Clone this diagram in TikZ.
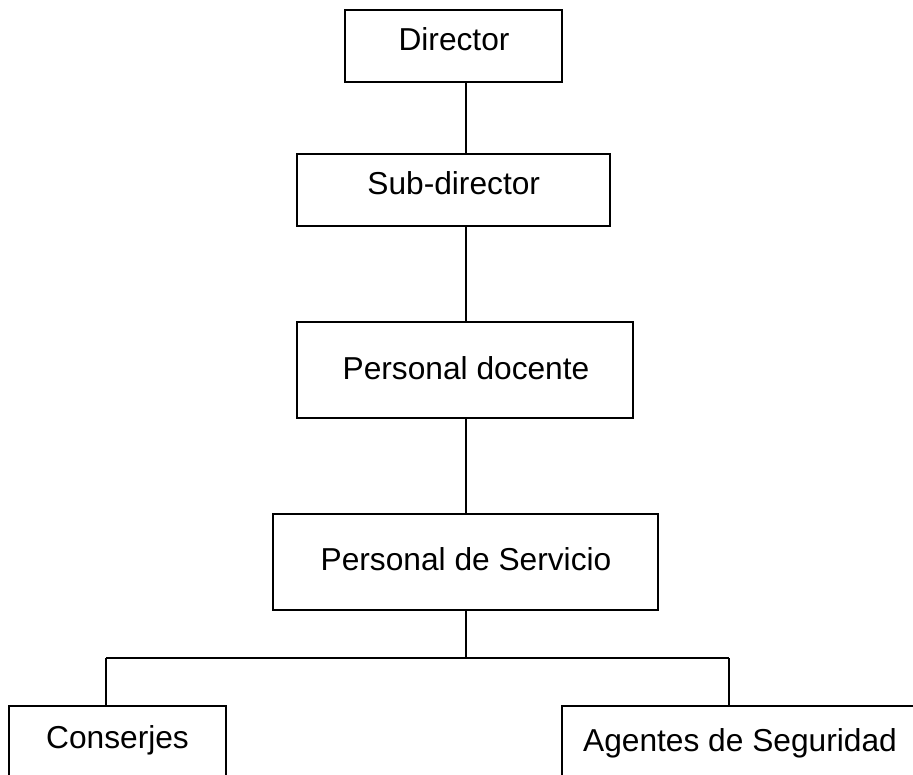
\documentclass[tikz,border=0pt]{standalone}
\usepackage{fontspec}
\setmainfont{Liberation Sans}
\begin{document}
\begin{tikzpicture}[x=1pt,y=-1pt,
  box/.style={draw=black,line width=1.6pt,fill=white,inner sep=0pt},
  lab/.style={anchor=base,inner sep=0pt,font=\fontsize{31.7}{38}\selectfont},
  conn/.style={draw=black,line width=1.6pt}]
\useasboundingbox (0,0) rectangle (913,774);
\clip (0,0) rectangle (913,774);
% boxes
\node[box,minimum width=217pt,minimum height=72pt] (dir) at (453.5,46) {};
\node[box,minimum width=313pt,minimum height=72pt] (sub) at (453.5,190) {};
\node[box,minimum width=336pt,minimum height=96pt] (doc) at (465,370) {};
\node[box,minimum width=385pt,minimum height=96pt] (ser) at (465.5,562) {};
\node[box,minimum width=217pt,minimum height=96pt] (con) at (117.5,754) {};
\node[box,minimum width=356pt,minimum height=96pt] (age) at (740,754) {};
% labels
\node[lab] (tdir) at (454,50) {Director};
\node[lab] (tsub) at (453.7,194) {Sub-director};
\node[lab] (tdoc) at (466,379) {Personal docente};
\node[lab] (tser) at (466,570) {Personal de Servicio};
\node[lab] (tcon) at (117.5,748) {Conserjes};
\node[lab] (tage) at (740,751) {Agentes de Seguridad};
% spine and branch
\coordinate (spine) at (466,0);
\coordinate (bl) at (106,658);
\coordinate (br) at (729,658);
\coordinate (bm) at (466,658);
\draw[conn] (dir.south -| spine) -- (sub.north -| spine);
\draw[conn] (sub.south -| spine) -- (doc.north -| spine);
\draw[conn] (doc.south -| spine) -- (ser.north -| spine);
\draw[conn] (ser.south -| spine) -- (bm);
\draw[conn] (bl) -- (br);
\draw[conn] (bl) -- (con.north -| bl);
\draw[conn] (br) -- (age.north -| br);
\end{tikzpicture}
\end{document}
